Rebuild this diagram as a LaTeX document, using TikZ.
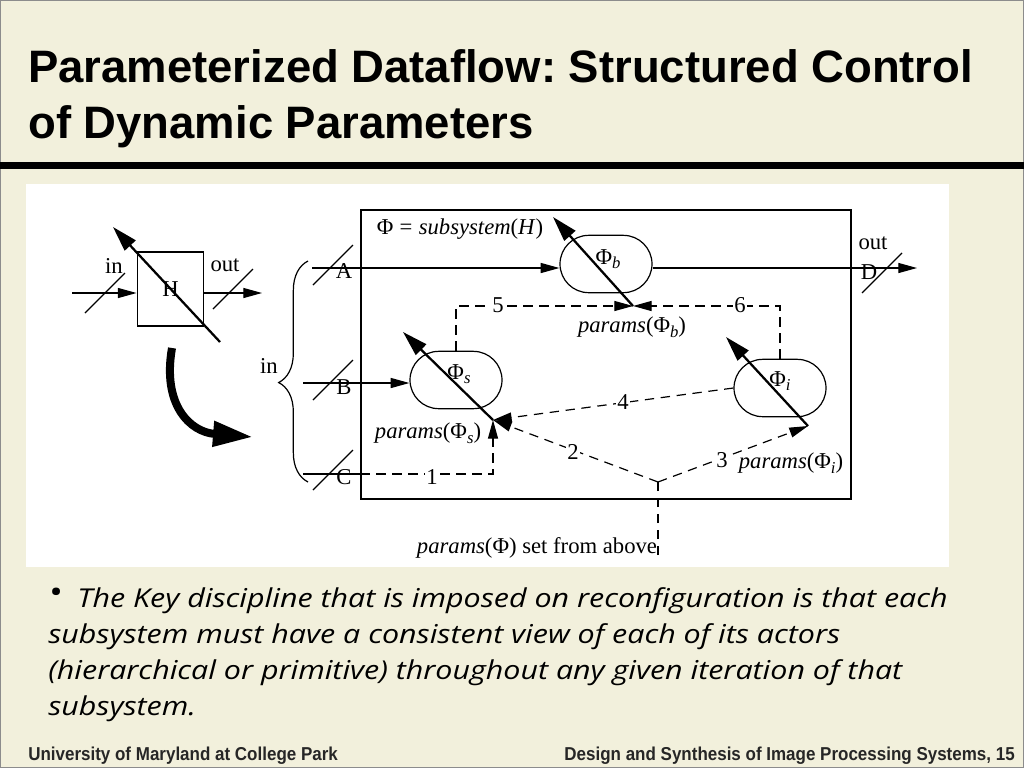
\documentclass[tikz,border=0pt]{standalone}
\usepackage{fontspec}
\setmainfont{Liberation Serif}
\newfontfamily\titlefont{Liberation Sans}
\newfontfamily\footfont[FakeStretch=0.91]{Liberation Sans}
\newfontfamily\bodyfont[FakeStretch=1.17]{Open Sans}
\usetikzlibrary{arrows.meta,shapes.misc,decorations.pathreplacing}
\definecolor{slidebg}{RGB}{242,240,220}
\newcommand{\psub}[1]{\raisebox{-0.45ex}{\fontsize{12.5}{13}\selectfont\itshape #1}}
\frenchspacing

\begin{document}
\begin{tikzpicture}[x=0.75pt,y=-0.75pt,
    sig/.style={-{Triangle[length=14pt,width=7.5pt]}, line width=0.9pt},
    diag/.style={-{Triangle[length=19pt,width=11pt]}, line width=1.7pt},
    ctl/.style={sig, dash pattern=on 7pt off 5pt},
    actor/.style={rounded rectangle, draw, line width=0.9pt, minimum width=69pt, minimum height=43pt, inner sep=0pt},
    lbl/.style={font=\fontsize{17}{19}\selectfont, inner sep=1pt},
    num/.style={lbl, fill=white},
    cut/.pic={\draw[line width=0.9pt] (-20,20) -- (20,-20);}]
    \useasboundingbox (0,0) rectangle (1024,768);
    \fill[slidebg] (0,0) rectangle (1024,768);
    \draw[black!45, line width=1pt] (0.7,0.7) rectangle (1023.3,767.3);
    \fill (0,162) rectangle (1024,169);
    \fill[white] (26,184) rectangle (949,567);

    \node[anchor=base west, inner sep=0pt, font=\titlefont\bfseries\fontsize{34.1}{40}\selectfont] (title1) at (28,82) {Parameterized Dataflow: Structured Control};
    \node[anchor=base west, inner sep=0pt, font=\titlefont\bfseries\fontsize{34.1}{40}\selectfont] (title2) at (28,138) {of Dynamic Parameters};

    \node[draw, line width=0.9pt, minimum width=50pt, minimum height=55.5pt, lbl] (H) at (170.5,289) {H};
    \coordinate (hT) at (113,227);
    \coordinate (hE) at (220,342);
    \draw[diag] (hE) -- (hT);
    \coordinate (hin) at (72,293);
    \coordinate (hout) at (262,293);
    \draw[sig] (hin) -- (hin -| H.west);
    \draw[sig] (hout -| H.east) -- (hout);
    \pic at (105,293) {cut};
    \pic at (233,289) {cut};
    \node[lbl] (inH) at (114,266) {in};
    \node[lbl] (outH) at (225,265) {out};
    \coordinate (bgS) at (172,348);
    \coordinate (bgE) at (253,437);
    \draw[-{Triangle[length=30pt,width=18pt]}, line width=6pt] (bgS) .. controls (162,405) and (190,432) .. (bgE);

    \draw[decorate, decoration={brace, amplitude=22pt, aspect=0.45}, line width=0.9pt] (308,482) -- (308,261);
    \node[lbl] (inS) at (269,366) {in};

    \node[draw, line width=1.1pt, minimum width=367.5pt, minimum height=216.75pt] (sys) at (606,354.5) {};
    \node[lbl] (phiH) at (460,229) {Φ\;=\;\textit{subsystem}(\textit{H})};

    \node[actor] (Pb) at (606,264) {};
    \node[actor] (Ps) at (456,380) {};
    \node[actor] (Pi) at (780,388) {};
    \node[lbl] at (608,259) {Φ\psub{b}};
    \node[lbl] at (459,374) {Φ\psub{s}};
    \node[lbl] at (780,381) {Φ\psub{i}};

    \coordinate (jb) at (633,306);
    \coordinate (js) at (493,420);
    \coordinate (ji) at (808,426);
    \coordinate (tb) at (553,217);
    \coordinate (ts) at (403,332);
    \coordinate (ti) at (726,337);
    \draw[diag] (jb) -- (tb);
    \draw[diag] (js) -- (ts);
    \draw[diag] (ji) -- (ti);

    \coordinate (inA) at (312,268);
    \coordinate (inB) at (303,383);
    \coordinate (inC) at (303,474);
    \coordinate (outD) at (917,268);
    \draw[sig] (inA) -- (inA -| Pb.west);
    \draw[sig] (inB) -- (inB -| Ps.west);
    \draw[sig] (Pb.east |- inA) -- (outD);
    \draw[line width=0.9pt] (inC) -- (inC -| sys.west);
    \pic at (333,265) {cut};
    \pic at (333,380) {cut};
    \pic at (333,470) {cut};
    \pic at (882,273) {cut};
    \node[lbl] (A) at (344,271) {A};
    \node[lbl] (B) at (344,387) {B};
    \node[lbl] (C) at (344,477) {C};
    \node[lbl] (D) at (869,272) {D};
    \node[lbl] (outS) at (873,243) {out};

    \coordinate (y0) at (658,482);
    \coordinate (pin) at (658,555);
    \draw[ctl] (inC -| sys.west) -- (js |- inC) -- (js);
    \draw[ctl] (Ps.north) -- (Ps.north |- jb) -- (jb);
    \draw[ctl] (Pi.north) -- (Pi.north |- jb) -- (jb);
    \draw[ctl] (Pi.west) -- (js);
    \draw[ctl] (y0) -- (js);
    \draw[ctl] (y0) -- (ji);
    \draw[line width=0.9pt, dash pattern=on 7pt off 5pt] (pin) -- (y0);
    \node[num] at (432,477) {1};
    \node[num] at (573,452) {2};
    \node[num] at (722,460) {3};
    \node[num] at (623,402) {4};
    \node[num] at (498,305) {5};
    \node[num] at (740,305) {6};

    \node[lbl] (pb) at (632,327) {\textit{params}(Φ\psub{b})};
    \node[lbl] (ps) at (428,433) {\textit{params}(Φ\psub{s})};
    \node[lbl] (pi) at (791,463) {\textit{params}(Φ\psub{i})};
    \node[lbl] (pa) at (537,548) {\textit{params}(Φ) set from above};

    \node[anchor=base west, inner sep=0pt, font=\bodyfont\itshape\fontsize{19.5}{27}\selectfont] (body1) at (48,607) {\raisebox{0.25ex}{\fontsize{24}{24}\selectfont •}\; The Key discipline that is imposed on reconfiguration is that each};
    \node[anchor=base west, inner sep=0pt, font=\bodyfont\itshape\fontsize{19.5}{27}\selectfont] (body2) at (48,643) {subsystem must have a consistent view of each of its actors};
    \node[anchor=base west, inner sep=0pt, font=\bodyfont\itshape\fontsize{19.5}{27}\selectfont] (body3) at (48,679) {(hierarchical or primitive) throughout any given iteration of that};
    \node[anchor=base west, inner sep=0pt, font=\bodyfont\itshape\fontsize{19.5}{27}\selectfont] (body4) at (48,715) {subsystem.};

    \node[anchor=base west, inner sep=0pt, font=\footfont\bfseries\fontsize{14}{16}\selectfont, text=black!85] (footL) at (28,760) {University of Maryland at College Park};
    \node[anchor=base east, inner sep=0pt, font=\footfont\bfseries\fontsize{14}{16}\selectfont, text=black!85] (footR) at (1015,760) {Design and Synthesis of Image Processing Systems, 15};
\end{tikzpicture}
\end{document}
